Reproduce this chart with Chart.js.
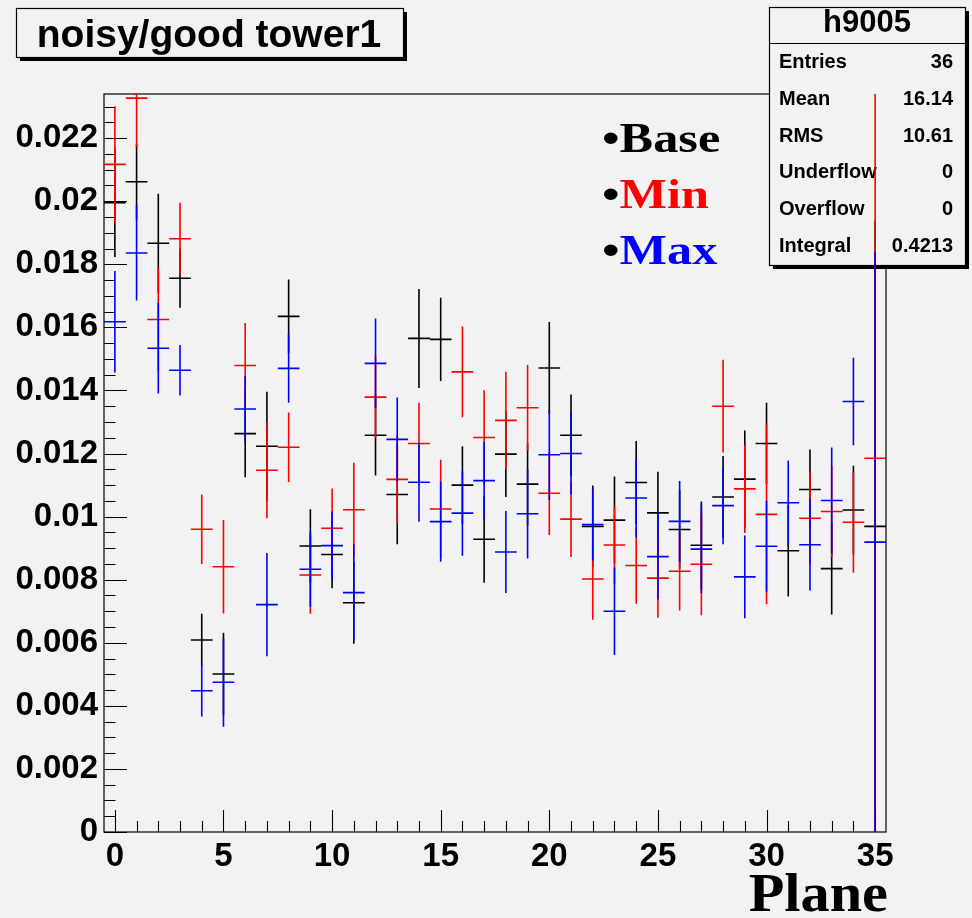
<!DOCTYPE html>
<html>
<head>
<meta charset="utf-8">
<title>noisy/good tower1</title>
<script src="https://cdn.jsdelivr.net/npm/chart.js@4.4.1/dist/chart.umd.min.js"></script>
<style>
html, body { margin: 0; padding: 0; background: #f2f2f2; }
#wrap { width: 972px; height: 918px; }
canvas { display: block; }
</style>
</head>
<body>
<div id="wrap"><canvas id="planeChart" width="972" height="918"></canvas></div>
<script>
// bins (plane number), one entry per plane
const planes = [0, 1, 2, 3, 4, 5, 6, 7, 8, 9, 10, 11, 12, 13, 14, 15, 16, 17, 18, 19, 20, 21, 22, 23, 24, 25, 26, 27, 28, 29, 30, 31, 32, 33, 34, 35];

const baseVals = [0.01995, 0.02062, 0.01867, 0.01756, 0.00609, 0.00501, 0.01263, 0.01223, 0.01635, 0.00907, 0.00880, 0.00727, 0.01258, 0.01070, 0.01565, 0.01562, 0.01100, 0.00928, 0.01198, 0.01103, 0.01471, 0.01258, 0.00969, 0.00989, 0.01108, 0.01012, 0.00959, 0.00909, 0.01062, 0.01119, 0.01232, 0.00892, 0.01086, 0.00835, 0.01021, 0.00969];
const baseErrs = [0.00172, 0.00120, 0.00157, 0.00094, 0.00083, 0.00131, 0.00138, 0.00173, 0.00117, 0.00116, 0.00107, 0.00130, 0.00128, 0.00158, 0.00157, 0.00132, 0.00123, 0.00138, 0.00136, 0.00130, 0.00146, 0.00129, 0.00130, 0.00138, 0.00132, 0.00130, 0.00125, 0.00139, 0.00130, 0.00154, 0.00129, 0.00145, 0.00127, 0.00145, 0.00140, 0.00969];

const minVals = [0.02117, 0.02327, 0.01625, 0.01881, 0.00960, 0.00841, 0.01479, 0.01147, 0.01220, 0.00815, 0.00963, 0.01022, 0.01379, 0.01118, 0.01232, 0.01024, 0.01459, 0.01251, 0.01305, 0.01345, 0.01074, 0.00992, 0.00802, 0.00910, 0.00845, 0.00805, 0.00827, 0.00849, 0.01350, 0.01088, 0.01007, null, 0.00995, 0.01016, 0.00982, 0.01185];
const minErrs = [0.00184, 0.00155, 0.00164, 0.00114, 0.00110, 0.00148, 0.00135, 0.00152, 0.00110, 0.00123, 0.00126, 0.00149, 0.00130, 0.00140, 0.00129, 0.00156, 0.00144, 0.00150, 0.00154, 0.00136, 0.00132, 0.00120, 0.00129, 0.00124, 0.00121, 0.00126, 0.00125, 0.00162, 0.00147, 0.00140, 0.00285, 0, 0.00146, 0.00145, 0.00160, 0.01185];

const maxVals = [0.01618, 0.01836, 0.01534, 0.01464, 0.00448, 0.00475, 0.01341, 0.00721, 0.01470, 0.00833, 0.00908, 0.00759, 0.01486, 0.01245, 0.01109, 0.00984, 0.01011, 0.01114, 0.00888, 0.01009, 0.01196, 0.01200, 0.00975, 0.00700, 0.01059, 0.00873, 0.00985, 0.00897, 0.01035, 0.00809, 0.00906, 0.01044, 0.00911, 0.01051, 0.01365, 0.00919];
const maxErrs = [0.00161, 0.00151, 0.00144, 0.00080, 0.00082, 0.00141, 0.00106, 0.00164, 0.00109, 0.00119, 0.00108, 0.00154, 0.00142, 0.00133, 0.00125, 0.00127, 0.00135, 0.00123, 0.00130, 0.00142, 0.00143, 0.00130, 0.00114, 0.00139, 0.00125, 0.00136, 0.00128, 0.00140, 0.00123, 0.00131, 0.00144, 0.00134, 0.00145, 0.00168, 0.00139, 0.00919];

const xTicks = [0, 5, 10, 15, 20, 25, 30, 35];
const yTicks = [0, 0.002, 0.004, 0.006, 0.008, 0.010, 0.012, 0.014, 0.016, 0.018, 0.020, 0.022];

const legendNames = ['Base', 'Min', 'Max'];
const seriesColors = ['#000000', '#ff0000', '#0000ff'];
const statLabels = ['Entries', 'Mean', 'RMS', 'Underflow', 'Overflow', 'Integral'];
const statValues = ['36', '16.14', '10.61', '0', '0', '0.4213'];

const BG = '#f2f2f2';
const SANS = '"Liberation Sans", Arial, Helvetica, sans-serif';
const SERIF = '"Liberation Serif", "Times New Roman", serif';

function fmtTick(v) {
if (Math.abs(v) < 1e-9) return '0';
return String(parseFloat(v.toFixed(4)));
}

function toPoints(vals) {
return planes.map(function(p, i) { return { x: p, y: vals[i] }; });
}

function boxWithShadow(ctx, x, y, w, h) {
ctx.fillStyle = '#000';
ctx.fillRect(x + 4, y + 4, w, h);
ctx.fillStyle = BG;
ctx.fillRect(x, y, w, h);
ctx.strokeStyle = '#000';
ctx.lineWidth = 1.2;
ctx.strokeRect(x + 0.5, y + 0.5, w, h);
}

function stretchText(ctx, text, x, y, sx) {
ctx.save();
ctx.translate(x, y);
ctx.scale(sx, 1);
ctx.fillText(text, 0, 0);
ctx.restore();
}

function drawFrameAndTicks(chart) {
const ctx = chart.ctx, a = chart.chartArea, xs = chart.scales.x, ys = chart.scales.y;
ctx.save();
ctx.strokeStyle = '#000';
ctx.lineWidth = 1.2;
ctx.strokeRect(a.left, a.top, a.right - a.left, a.bottom - a.top);
ctx.lineWidth = 1.1;
ctx.beginPath();
// x ticks every plane, long every 5
for (let v = 0; v <= 35; v++) {
const px = Math.round(xs.getPixelForValue(v)) + 0.5;
const len = v % 5 === 0 ? 22 : 11;
ctx.moveTo(px, a.bottom);
ctx.lineTo(px, a.bottom - len);
}
// y ticks every 0.0005, long every 0.002
for (let k = 0; k * 0.0005 <= ys.max; k++) {
const py = Math.round(ys.getPixelForValue(k * 0.0005)) + 0.5;
const len = k % 4 === 0 ? 23 : 11.5;
ctx.moveTo(a.left, py);
ctx.lineTo(a.left + len, py);
}
ctx.stroke();
ctx.restore();
}

function drawStats(chart) {
const ctx = chart.ctx;
ctx.save();
boxWithShadow(ctx, 769, 7, 196, 258);
ctx.beginPath();
ctx.moveTo(769, 43.5);
ctx.lineTo(965, 43.5);
ctx.stroke();
ctx.fillStyle = '#000';
ctx.textBaseline = 'alphabetic';
ctx.textAlign = 'center';
ctx.font = 'bold 31px ' + SANS;
ctx.fillText('h9005', 867, 32);
ctx.font = 'bold 20px ' + SANS;
statLabels.forEach(function(lab, i) {
const by = 68 + i * 36.8;
ctx.textAlign = 'left';
ctx.fillText(lab, 779, by);
ctx.textAlign = 'right';
ctx.fillText(statValues[i], 953, by);
});
ctx.restore();
}

function drawCrosses(chart) {
const ctx = chart.ctx, a = chart.chartArea, xs = chart.scales.x, ys = chart.scales.y;
ctx.save();
ctx.beginPath();
ctx.rect(a.left, a.top, a.right - a.left, a.bottom - a.top);
ctx.clip();
ctx.lineWidth = 1.6;
chart.data.datasets.forEach(function(ds) {
ctx.strokeStyle = ds.borderColor;
ds.data.forEach(function(p, i) {
if (p.y == null) return;
const e = ds.errs[i];
const px = xs.getPixelForValue(p.x), py = ys.getPixelForValue(p.y);
ctx.beginPath();
ctx.moveTo(xs.getPixelForValue(p.x - 0.5), py);
ctx.lineTo(xs.getPixelForValue(p.x + 0.5), py);
ctx.moveTo(px, ys.getPixelForValue(p.y + e));
ctx.lineTo(px, ys.getPixelForValue(Math.max(0, p.y - e)));
ctx.stroke();
});
});
ctx.restore();
}

function drawDecor(chart) {
const ctx = chart.ctx;
ctx.save();
// title pave
boxWithShadow(ctx, 16, 8, 387, 49);
ctx.fillStyle = '#000';
ctx.textAlign = 'center';
ctx.textBaseline = 'alphabetic';
ctx.font = 'bold 39px ' + SANS;
ctx.fillText('noisy/good tower1', 209, 47);
// legend text
ctx.textAlign = 'left';
ctx.font = 'bold 43px ' + SERIF;
const sx = 1.17;
const bw = ctx.measureText('\u2022').width * sx;
legendNames.forEach(function(name, i) {
const by = 152 + i * 56;
ctx.fillStyle = '#000';
stretchText(ctx, '\u2022', 602, by, sx);
ctx.fillStyle = seriesColors[i];
stretchText(ctx, name, 602 + bw, by, sx);
});
// axis title
ctx.fillStyle = '#000';
ctx.font = 'bold 54px ' + SERIF;
const tw = ctx.measureText('Plane').width * 1.08;
stretchText(ctx, 'Plane', 888 - tw, 911, 1.08);
ctx.restore();
}

const rootStyle = {
id: 'rootStyle',
beforeDraw: function(chart) {
const ctx = chart.ctx;
ctx.save();
ctx.fillStyle = BG;
ctx.fillRect(0, 0, chart.width, chart.height);
ctx.restore();
},
beforeDatasetsDraw: function(chart) {
drawFrameAndTicks(chart);
drawStats(chart);
},
afterDatasetsDraw: function(chart) {
drawCrosses(chart);
},
afterDraw: function(chart) {
drawDecor(chart);
}
};

function initChart() {
const ctx = document.getElementById('planeChart').getContext('2d');
window.planeChart = new Chart(ctx, {
type: 'scatter',
data: { datasets: [
{ label: 'Base', data: toPoints(baseVals), errs: baseErrs, borderColor: seriesColors[0], backgroundColor: seriesColors[0], pointRadius: 0, showLine: false },
{ label: 'Min', data: toPoints(minVals), errs: minErrs, borderColor: seriesColors[1], backgroundColor: seriesColors[1], pointRadius: 0, showLine: false },
{ label: 'Max', data: toPoints(maxVals), errs: maxErrs, borderColor: seriesColors[2], backgroundColor: seriesColors[2], pointRadius: 0, showLine: false }
] },
options: {
responsive: false, animation: false, devicePixelRatio: 1, events: [],
layout: { padding: { left: 0, top: 94, right: 86, bottom: 0 } },
plugins: { legend: { display: false }, tooltip: { enabled: false }, title: { display: false } },
scales: {
x: {
type: 'linear', min: -0.5, max: 35.5,
afterBuildTicks: function(s) { s.ticks = xTicks.map(function(v) { return { value: v }; }); },
afterFit: function(s) { s.height = 86; },
grid: { display: false, drawTicks: false }, border: { display: false },
ticks: { autoSkip: false, maxRotation: 0, padding: 5, color: '#000', font: { family: SANS, size: 33, weight: 'bold' }, callback: function(v) { return String(v); } }
},
y: {
type: 'linear', min: 0, max: 0.0234,
afterBuildTicks: function(s) { s.ticks = yTicks.map(function(v) { return { value: v }; }); },
afterFit: function(s) { s.width = 104; },
grid: { display: false, drawTicks: false }, border: { display: false },
ticks: { autoSkip: false, padding: 6, color: '#000', font: { family: SANS, size: 33, weight: 'bold' }, callback: function(v) { return fmtTick(v); } }
}
}
},
plugins: [rootStyle]
});
}

document.addEventListener('DOMContentLoaded', initChart);
</script>
</body>
</html>
